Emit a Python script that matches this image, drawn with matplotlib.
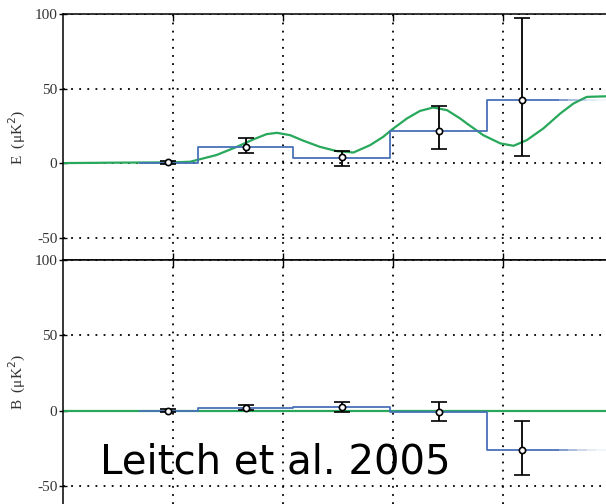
import matplotlib
matplotlib.use("Agg")
import matplotlib.pyplot as plt

# band edges in multipole ell, and the step (band power) levels
bin_edges = [140, 245, 418, 595, 771, 900]
e_steps = [0.0, 10.7, 3.5, 21.6, 42.4]
b_steps = [0.0, 1.5, 2.2, -1.1, -26.0]

# measured points with asymmetric error bars
pt_ell = [191, 333, 507, 684, 835]
e_val = [0.5, 10.7, 4.0, 21.6, 42.0]
e_hi = [1.5, 16.7, 8.2, 38.0, 97.0]
e_lo = [-0.5, 6.7, -2.2, 9.4, 4.7]
b_val = [0.0, 1.8, 2.2, -0.9, -26.0]
b_hi = [1.0, 4.0, 5.8, 5.8, -7.1]
b_lo = [-1.0, 0.2, -0.9, -6.7, -42.7]

# model curves
model_ell = [0, 100, 200, 231, 279, 316, 346, 370, 389, 413, 437, 467, 498, 528,
             558, 582, 598, 625, 649, 673, 698, 722, 734, 764, 795, 819, 843,
             873, 904, 928, 952, 987]
model_e = [0.0, 0.3, 0.5, 0.9, 5.4, 10.9, 15.9, 19.4, 20.3, 18.7, 15.0, 10.9,
           8.0, 7.1, 12.0, 17.6, 22.5, 29.9, 35.0, 37.3, 35.5, 29.9, 26.6,
           18.7, 13.2, 11.6, 15.4, 23.2, 33.3, 40.0, 44.4, 44.8]
model_b = [0.0] * len(model_ell)

XMAX = 987
BLUE = '#4a72b8'
GREEN = '#27a85a'
serif = 'Liberation Serif'
fade = [0.75, 0.5, 0.3, 0.15, 0.08]  # blue step fading out on the right

fig = plt.figure(figsize=(6.06, 5.04), dpi=100)
ax_e = fig.add_axes([63/606, 244/504, 543/606, 246/504])
ax_b = fig.add_axes([63/606, 0.0, 543/606, 244/504])

panels = [
    (ax_e, e_steps, e_val, e_lo, e_hi, model_e, (-65, 100), 'E  (μK$^2$)'),
    (ax_b, b_steps, b_val, b_lo, b_hi, model_b, (-62, 100), 'B  (μK$^2$)'),
]

for ax, steps, val, lo, hi, model, ylim, lab in panels:
    ax.plot(model_ell, model, color=GREEN, lw=1.6, zorder=2)
    ax.step(bin_edges, steps + [steps[-1]], where='post', color=BLUE, lw=1.3, zorder=3)
    seg = (XMAX - bin_edges[-1]) / len(fade)
    for i, a in enumerate(fade):
        x0 = bin_edges[-1] + i * seg
        ax.plot([x0, x0 + seg], [steps[-1], steps[-1]], color=BLUE, lw=1.3,
                alpha=a, solid_capstyle='butt', zorder=3)
    yerr = [[v - l for v, l in zip(val, lo)], [h - v for v, h in zip(val, hi)]]
    ax.errorbar(pt_ell, val, yerr=yerr, fmt='o', color='black', ecolor='black',
                elinewidth=1.3, capsize=6, capthick=1.3, markersize=4.5,
                markerfacecolor='white', markeredgecolor='black', mew=1.2, zorder=4)

    ax.set_xlim(0, XMAX)
    ax.set_ylim(*ylim)
    ax.set_xticks([200, 400, 600, 800])
    ax.set_yticks([-50, 0, 50, 100])
    ax.set_yticklabels(['-50', '0', '50', '100'])
    ax.tick_params(axis='x', direction='in', top=True, bottom=True,
                   labelbottom=False, length=5, width=1.0)
    ax.tick_params(axis='y', direction='inout', length=6, width=1.0,
                   labelsize=11, labelcolor='#333333', pad=1)
    for t in ax.get_yticklabels():
        t.set_fontfamily(serif)
    ax.grid(True, color='black', lw=1.3, linestyle=(0, (1, 3.5)))
    ax.spines['right'].set_visible(False)
    for s in ['top', 'bottom', 'left']:
        ax.spines[s].set_linewidth(1.1)
    ax.set_ylabel(lab, fontfamily=serif, fontsize=11, color='#333333', labelpad=5)

ax_b.spines['bottom'].set_visible(False)
ax_b.tick_params(axis='x', bottom=False)

fig.text(100/606, 31/504, 'Leitch et al. 2005', fontsize=29, color='black',
         fontfamily='DejaVu Sans', va='baseline', ha='left')

fig.savefig('out.png', dpi=100)
